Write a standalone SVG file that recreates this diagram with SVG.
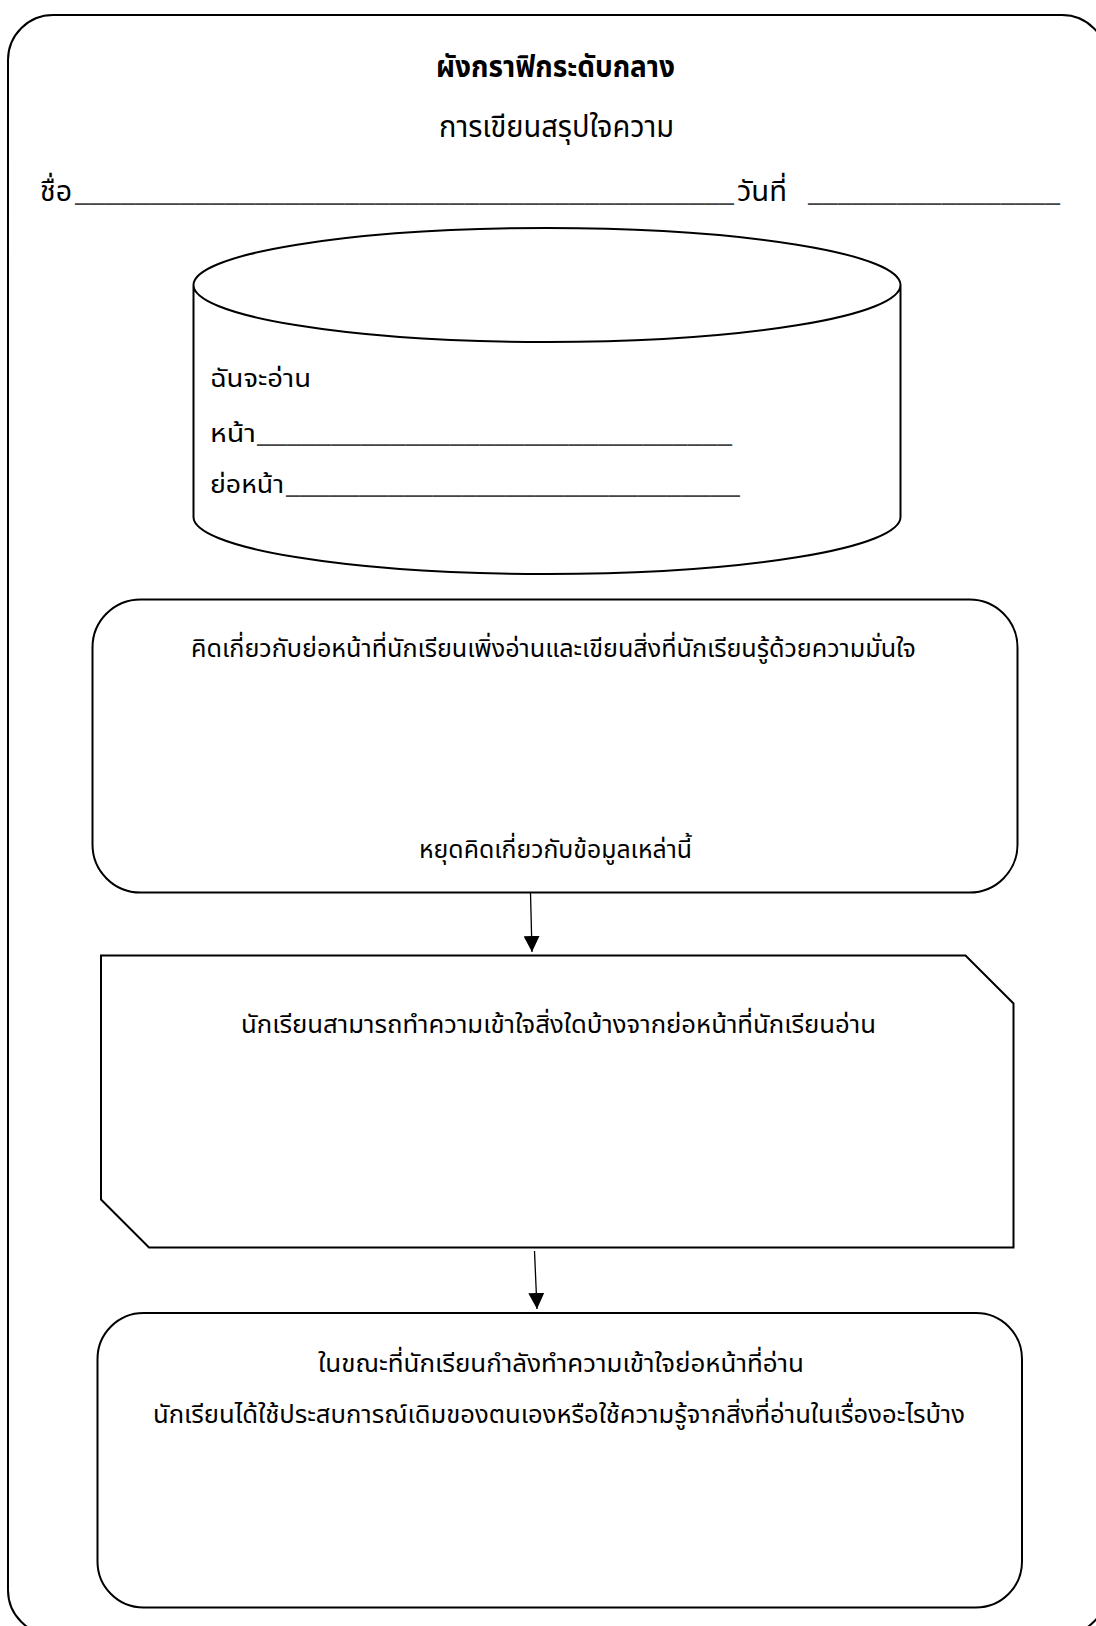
<svg xmlns="http://www.w3.org/2000/svg" width="1096" height="1626" viewBox="0 0 1096 1626">
<defs>
<marker id="arrow" markerWidth="16" markerHeight="16" refX="16" refY="8" orient="auto" markerUnits="userSpaceOnUse"><path d="M0,0 L16,8 L0,16 z" fill="#000"/></marker>
</defs>
<style>
.t{font-family:"Noto Sans Thai","Noto Sans Thai UI","Noto Looped Thai","Garuda","Loma","Noto Sans","DejaVu Sans",sans-serif;fill:#000}
.b{font-size:25px}
.h{font-size:30px}
.n{font-size:28px}
.shape{fill:none;stroke:#000;stroke-width:2}
.u{fill:#444}
.conn{stroke:#000;stroke-width:1.3;fill:none}
</style>
<rect width="1096" height="1626" fill="#fff"/>
<g id="frame"><rect x="8" y="15" width="1099" height="1620" rx="45" class="shape"/></g>
<g id="header">
<text class="t h" x="436" y="77" font-weight="bold" textLength="239" lengthAdjust="spacingAndGlyphs">ผังกราฟิกระดับกลาง</text>
<text class="t h" x="439" y="137" textLength="235" lengthAdjust="spacingAndGlyphs">การเขียนสรุปใจความ</text>
<text class="t n" x="40" y="201" textLength="32" lengthAdjust="spacingAndGlyphs">ชื่อ</text>
<text class="t n u" x="75" y="201" textLength="659" lengthAdjust="spacingAndGlyphs">____________________________________________</text>
<text class="t n" x="737" y="201" textLength="50" lengthAdjust="spacingAndGlyphs">วันที่</text>
<text class="t n u" x="808" y="201" textLength="252" lengthAdjust="spacingAndGlyphs">_________________</text>
</g>
<g id="cylinder">
<path class="shape" d="M193.5,285 A353.5,57 0 0 1 900.5,285 A353.5,57 0 0 1 193.5,285 Z M193.5,285 L193.5,517 A353.5,57 0 0 0 900.5,517 L900.5,285"/>
<text class="t b" x="210" y="387" textLength="101" lengthAdjust="spacingAndGlyphs">ฉันจะอ่าน</text>
<text class="t b" x="210" y="442" textLength="46" lengthAdjust="spacingAndGlyphs">หน้า</text>
<text class="t b u" x="257" y="442" textLength="475" lengthAdjust="spacingAndGlyphs">________________________________</text>
<text class="t b" x="210" y="493" textLength="74" lengthAdjust="spacingAndGlyphs">ย่อหน้า</text>
<text class="t b u" x="286" y="493" textLength="454" lengthAdjust="spacingAndGlyphs">_______________________________</text>
</g>
<g id="box1">
<rect class="shape" x="92.5" y="599.5" width="925" height="293" rx="48"/>
<text class="t b" x="191" y="657" textLength="725" lengthAdjust="spacingAndGlyphs">คิดเกี่ยวกับย่อหน้าที่นักเรียนเพิ่งอ่านและเขียนสิ่งที่นักเรียนรู้ด้วยความมั่นใจ</text>
<text class="t b" x="419" y="858" textLength="273" lengthAdjust="spacingAndGlyphs">หยุดคิดเกี่ยวกับข้อมูลเหล่านี้</text>
</g>
<g id="box2">
<path class="shape" d="M101,955.5 L965.5,955.5 L1013.5,1003.5 L1013.5,1247.5 L149,1247.5 L101,1199.5 Z"/>
<text class="t b" x="241" y="1033" textLength="635" lengthAdjust="spacingAndGlyphs">นักเรียนสามารถทำความเข้าใจสิ่งใดบ้างจากย่อหน้าที่นักเรียนอ่าน</text>
</g>
<g id="box3">
<rect class="shape" x="97.5" y="1313" width="924.5" height="294.5" rx="46"/>
<text class="t b" x="318" y="1372" textLength="486" lengthAdjust="spacingAndGlyphs">ในขณะที่นักเรียนกำลังทำความเข้าใจย่อหน้าที่อ่าน</text>
<text class="t b" x="153" y="1423" textLength="812" lengthAdjust="spacingAndGlyphs">นักเรียนได้ใช้ประสบการณ์เดิมของตนเองหรือใช้ความรู้จากสิ่งที่อ่านในเรื่องอะไรบ้าง</text>
</g>
<g id="connectors">
<line class="conn" x1="530.5" y1="893" x2="532" y2="952" marker-end="url(#arrow)"/>
<line class="conn" x1="534.5" y1="1251" x2="537" y2="1309" marker-end="url(#arrow)"/>
</g>
</svg>
